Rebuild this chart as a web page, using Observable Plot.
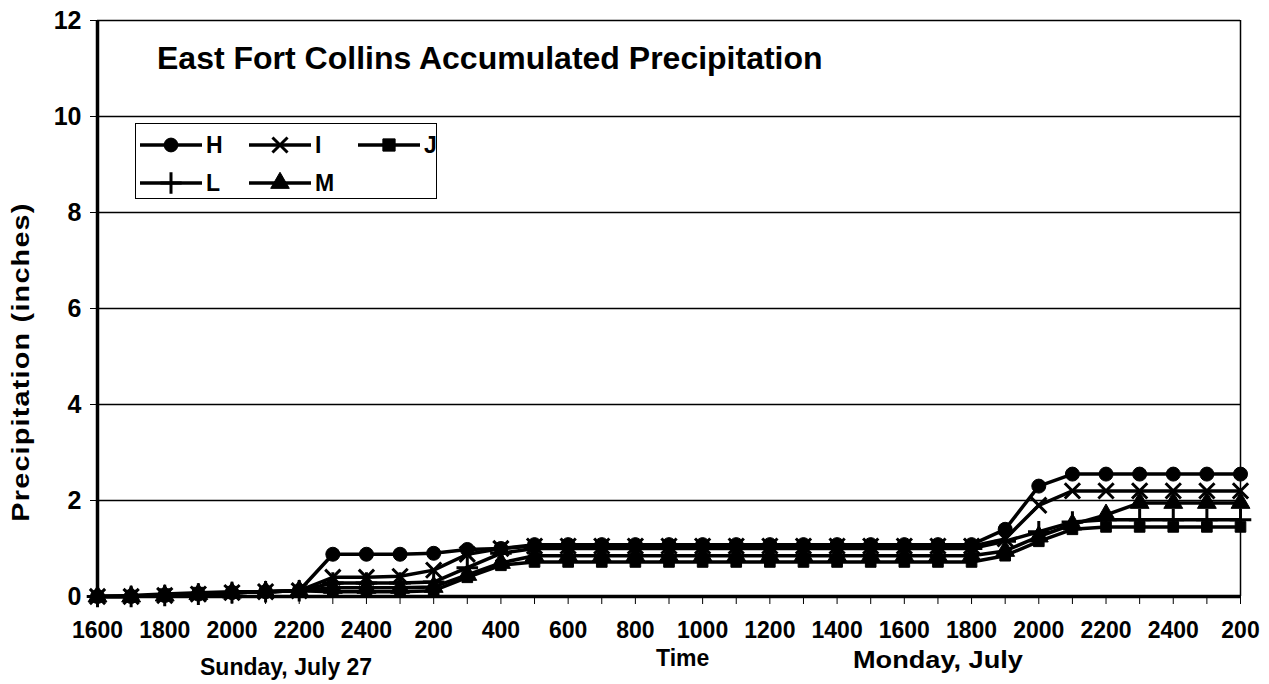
<!DOCTYPE html>
<html><head><meta charset="utf-8">
<script src="https://cdn.jsdelivr.net/npm/d3@7"></script>
<script src="https://cdn.jsdelivr.net/npm/@observablehq/plot@0.6"></script>
<style>
body{margin:0;background:#fff;}
#wrap{position:relative;width:1269px;height:684px;font-family:"Liberation Sans",Arial,sans-serif;font-weight:bold;color:#000}
.ann{position:absolute;white-space:nowrap;font-weight:bold;transform-origin:0 50%}
#legend{position:absolute;left:135px;top:123px;width:302px;height:76px;border:1.5px solid #000;background:#fff;box-sizing:border-box}
#ylab{position:absolute;left:21px;top:362px;transform:translate(-50%,-50%) rotate(-90deg) scaleX(1.2);white-space:nowrap;font-size:24px;letter-spacing:1px;font-weight:bold}
</style></head><body><div id="wrap"></div>
<script>
// hourly time labels (x categories)
const times = ["1600","1700","1800","1900","2000","2100","2200","2300","2400","100","200","300","400","500","600","700","800","900","1000","1100","1200","1300","1400","1500","1600","1700","1800","1900","2000","2100","2200","2300","2400","100","200"];
const seriesNames = ["H","I","J","L","M"];
const H = [0,0,0.02,0.05,0.08,0.1,0.12, 0.88,0.88,0.88,0.9, 0.98,1.0, 1.08,1.08,1.08,1.08,1.08,1.08,1.08,1.08,1.08,1.08,1.08,1.08,1.08,1.08, 1.4,2.3,2.55, 2.55,2.55,2.55,2.55,2.55];
const I = [0,0,0.02,0.05,0.08,0.1,0.12, 0.4,0.4,0.42,0.55, 0.88,1.0, 1.05,1.05,1.05,1.05,1.05,1.05,1.05,1.05,1.05,1.05,1.05,1.05,1.05,1.05, 1.2,1.9,2.2, 2.2,2.2,2.2,2.2,2.2];
const J = [0,0.02,0.05,0.08,0.1,0.1,0.12, 0.1,0.1,0.1,0.12, 0.4,0.65, 0.72,0.72,0.72,0.72,0.72,0.72,0.72,0.72,0.72,0.72,0.72,0.72,0.72,0.72, 0.85,1.15,1.4, 1.45,1.45,1.45,1.45,1.45];
const L = [0,0,0.02,0.05,0.08,0.1,0.12, 0.28,0.28,0.28,0.3, 0.6,0.9, 1.0,1.0,1.0,1.0,1.0,1.0,1.0,1.0,1.0,1.0,1.0,1.0,1.0,1.0, 1.15,1.35,1.55, 1.6,1.6,1.6,1.6,1.6];
const M = [0,0,0.02,0.05,0.08,0.1,0.12, 0.18,0.18,0.18,0.2, 0.45,0.7, 0.85,0.85,0.85,0.85,0.85,0.85,0.85,0.85,0.85,0.85,0.85,0.85,0.85,0.85, 0.95,1.25,1.5, 1.7,1.95,1.95,1.95,1.95];
const yTicks = [0,2,4,6,8,10,12];
const title = "East Fort Collins Accumulated Precipitation";
const yTitle = "Precipitation (inches)";
const xTitle = "Time";

const values = [H,I,J,L,M];
const symbols = {H:"circle", I:"times", J:"square", L:"plus", M:"triangle"};
const filled = {H:true, I:false, J:true, L:false, M:true};
const rows = seriesNames.flatMap((s,k)=>values[k].map((v,i)=>({series:s, i, v})));
const idx = d3.range(times.length);

const font = '"Liberation Sans", Arial, sans-serif';
const dotMarks = seriesNames.map(s => Plot.dot(rows.filter(d=>d.series===s), {
  x:"i", y:"v", symbol: () => symbols[s], r: s==="J"?6:7,
  fill: filled[s] ? "#000" : "none", stroke:"#000", strokeWidth: filled[s]?1:3
}));

const chart = Plot.plot({
  width:1269, height:684, marginLeft:97, marginRight:29, marginTop:20, marginBottom:88,
  style:{fontFamily:font, fontWeight:"bold", fontSize:"20px", background:"white", color:"#000", overflow:"visible"},
  x:{domain:[0, times.length-1]},
  y:{domain:[0,12]},
  symbol:{type:"identity"},
  marks:[
    Plot.gridY(yTicks.slice(1), {stroke:"#000", strokeOpacity:1, strokeWidth:1.5}),
    Plot.axisY({ticks:yTicks, tickSize:7, tickPadding:9, fontSize:25, label:null}),
    Plot.axisX({ticks:idx, tickFormat:i => i%2===0 ? times[i] : "", tickSize:8, tickPadding:17, fontSize:23, label:null}),
    Plot.ruleX([times.length-1], {stroke:"#000", strokeWidth:1.5}),
    Plot.ruleX([0], {stroke:"#000", strokeWidth:3.5}),
    Plot.ruleY([0], {stroke:"#000", strokeWidth:3.5}),
    Plot.line(rows, {x:"i", y:"v", z:"series", stroke:"#000", strokeWidth:3.5}),
    ...dotMarks
  ]
});
const wrap = document.getElementById("wrap");
wrap.appendChild(chart);

function addText(txt, left, top, size, sx){
  const d = document.createElement("div");
  d.className = "ann"; d.textContent = txt;
  d.style.left = left+"px"; d.style.top = top+"px"; d.style.fontSize = size+"px";
  if (sx) d.style.transform = `scaleX(${sx})`;
  wrap.appendChild(d); return d;
}
addText(title, 157, 40, 32);
addText("Sunday, July 27", 200, 654, 23);
addText("Monday, July", 853, 647, 23, 1.18);
addText(xTitle, 656, 645, 23);
const yl = document.createElement("div"); yl.id = "ylab"; yl.textContent = yTitle; wrap.appendChild(yl);

// legend
const leg = document.createElement("div"); leg.id = "legend"; wrap.appendChild(leg);
const legPos = [[0,0],[1,0],[2,0],[0,1],[1,1]];
seriesNames.forEach((s,k)=>{
  const [c,r] = legPos[k];
  const item = document.createElement("div");
  item.style.cssText = `position:absolute;left:${4+c*109}px;top:${7+r*38}px;height:28px;display:flex;align-items:center;font-size:23px;`;
  const svg = d3.create("svg").attr("width",62).attr("height",28);
  svg.append("line").attr("x1",0).attr("x2",62).attr("y1",14).attr("y2",14).attr("stroke","#000").attr("stroke-width",3.5);
  const sym = {H:d3.symbolCircle, I:d3.symbolTimes, J:d3.symbolSquare, L:d3.symbolPlus, M:d3.symbolTriangle}[s];
  svg.append("path").attr("transform","translate(31,14)").attr("d", d3.symbol(sym, 150)())
    .attr("fill", filled[s]?"#000":"none").attr("stroke","#000").attr("stroke-width", filled[s]?1:3);
  item.appendChild(svg.node());
  const t = document.createElement("span"); t.textContent = s; t.style.marginLeft = "4px";
  item.appendChild(t);
  leg.appendChild(item);
});
</script></body></html>
